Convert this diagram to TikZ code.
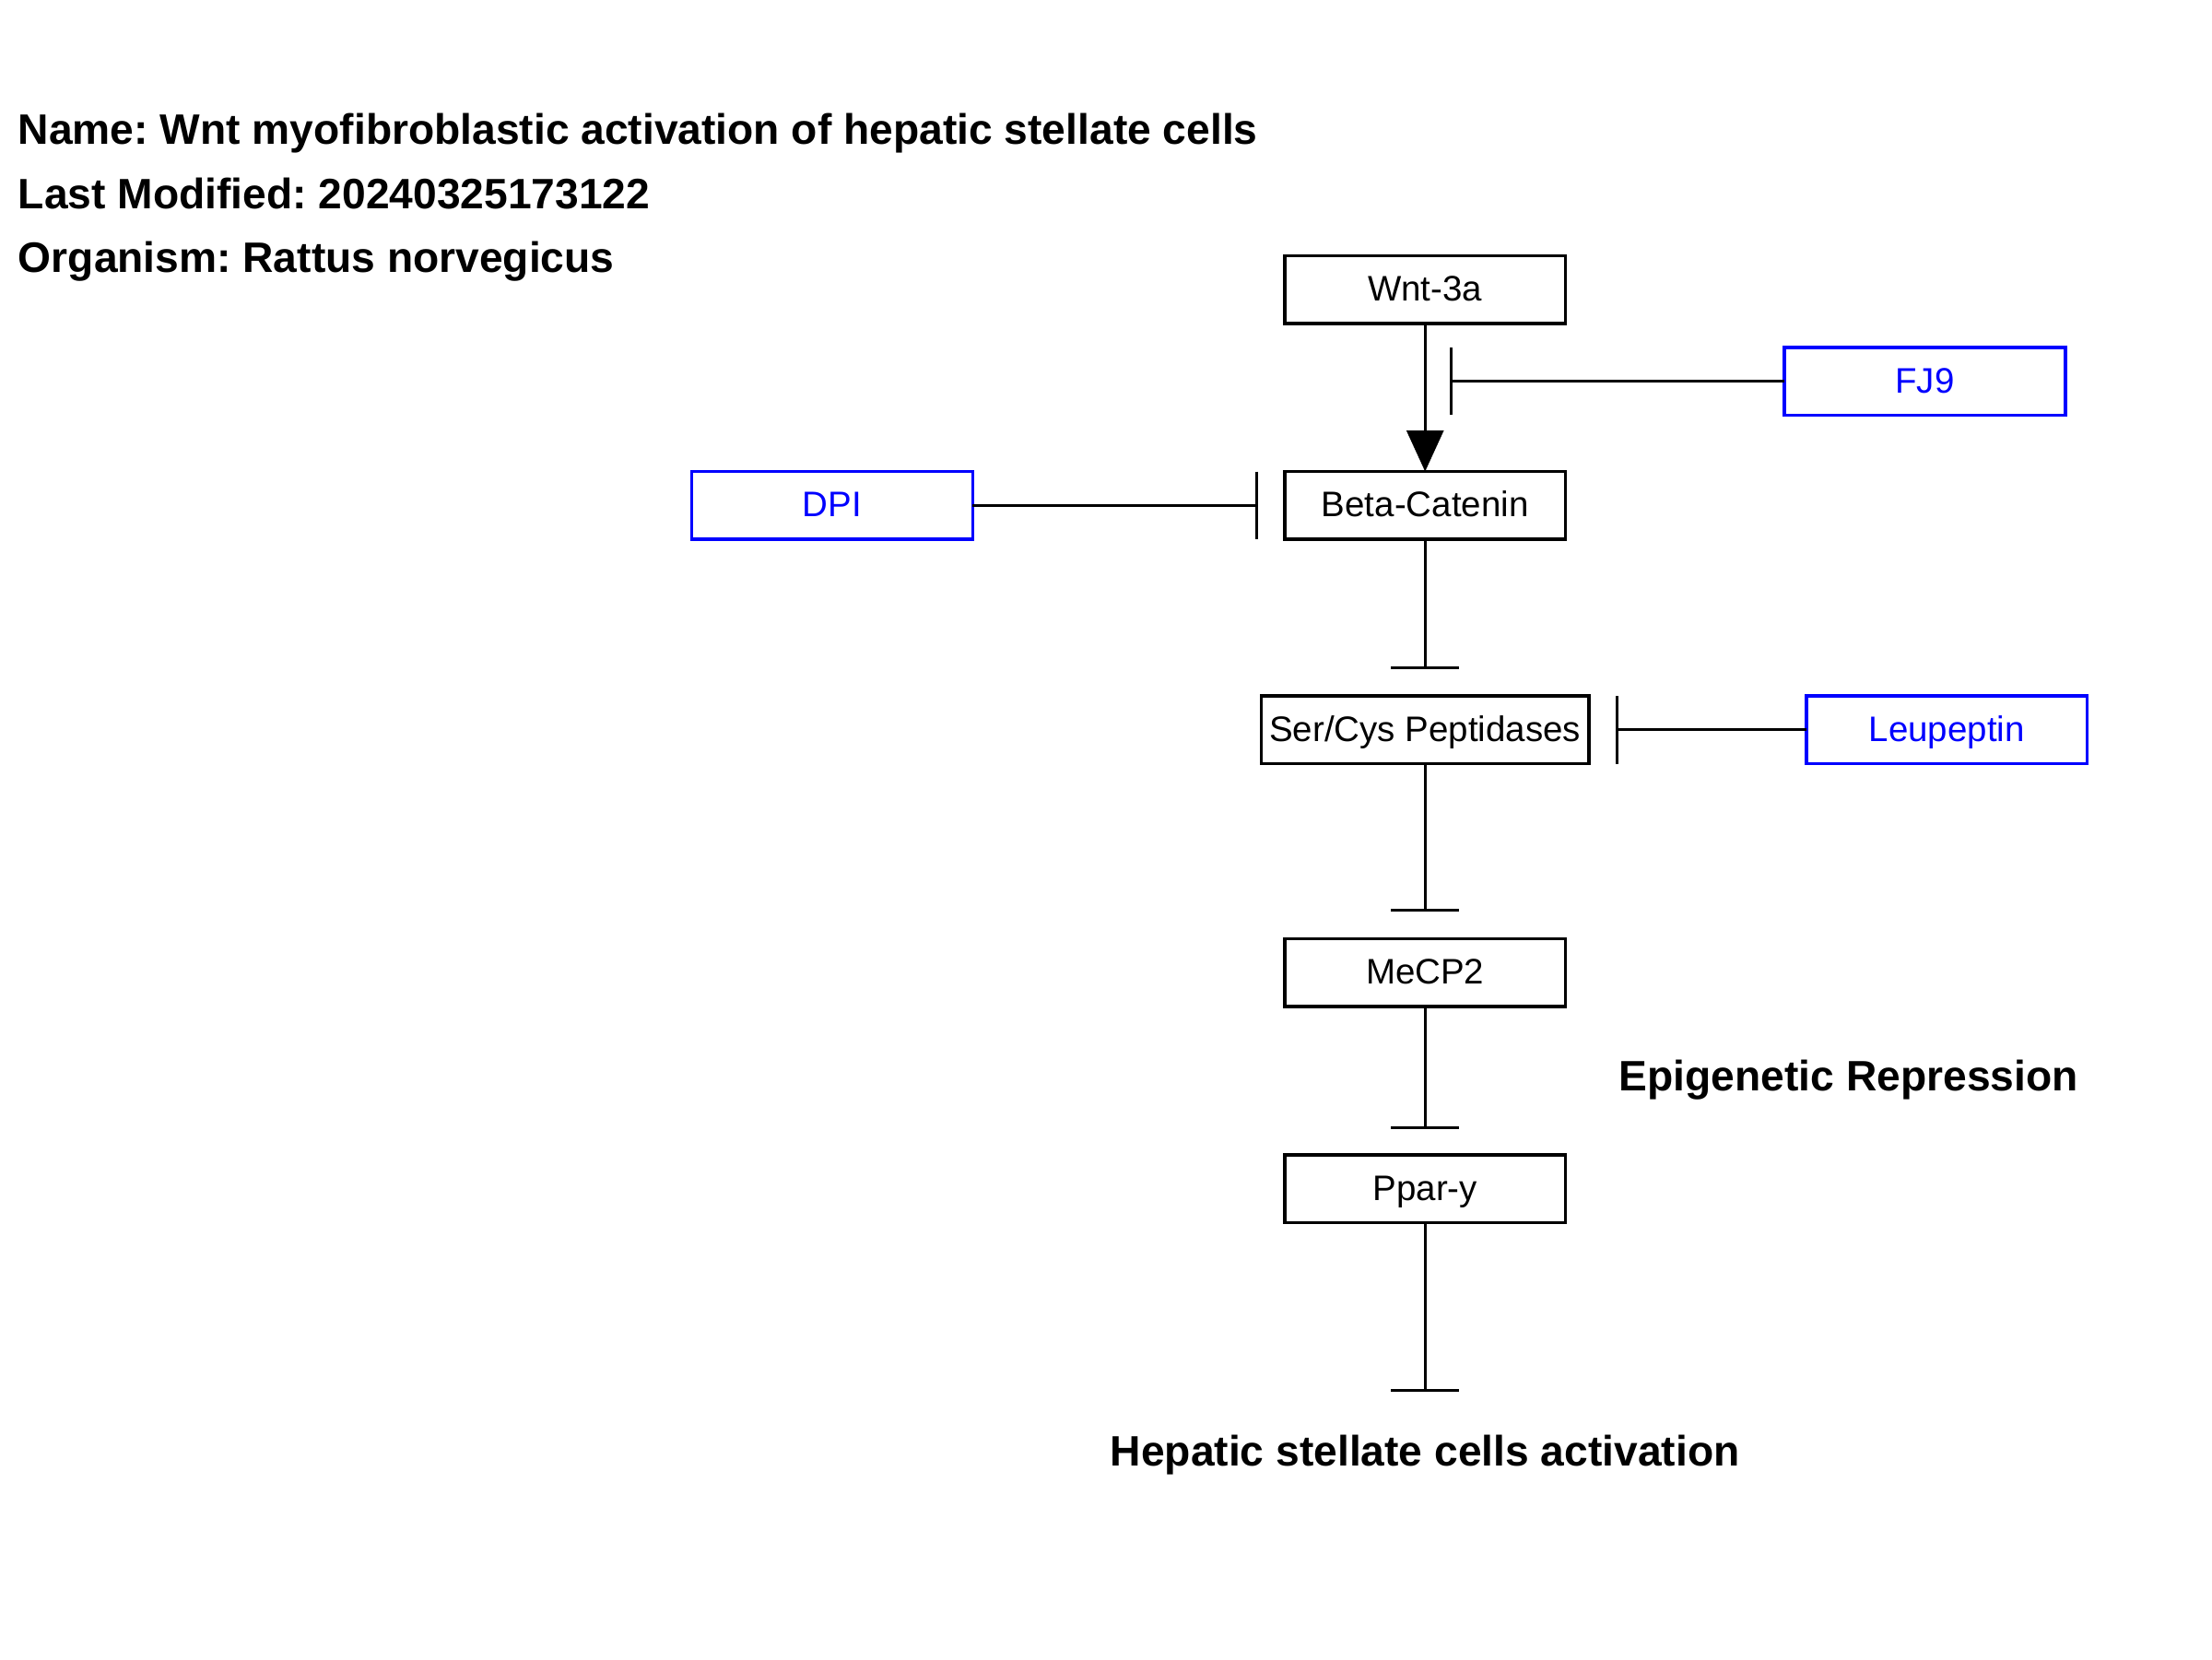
\documentclass[tikz,border=0pt]{standalone}
\usepackage{fontspec}
\setmainfont{Liberation Sans}
\usepackage{tikz}
\usetikzlibrary{positioning,arrows.meta}
\frenchspacing
\tikzstyle{gene} = [
rectangle,
minimum width=3.048cm,
minimum height=0.735cm,
inner xsep=2.5pt,
outer sep=0pt,
text height=0.93em,
text depth=0.214em,
text centered,
line width=1pt,
draw=black,
font=\fontsize{10.95}{13}\selectfont
]
\tikzstyle{drug} = [
gene,
draw=blue,
text=blue
]
\tikzstyle{label} = [
inner sep=0pt,
outer sep=0pt,
font=\fontsize{13.14}{16}\selectfont\bfseries
]
\tikzstyle{activate} = [
line width=0.9pt,
-{Triangle[length=0.444cm,width=0.398cm]}
]
\tikzstyle{inhibit} = [
line width=0.9pt,
-{Bar[width=0.735cm]}
]

\begin{document}
\begin{tikzpicture}
					\useasboundingbox (0,0) rectangle (24,-18);
					%Header
					\node[label,anchor=base west] (name) at (0.199,-1.565) {Name: Wnt myofibroblastic activation of hepatic stellate cells};
					\node[label,anchor=base west] (modified) at (0.199,-2.262) {Last Modified: 20240325173122};
					\node[label,anchor=base west] (organism) at (0.199,-2.959) {Organism: Rattus norvegicus};
					%Nodes
					\node[gene] (wnt) at (15.462,-3.140) {Wnt-3a};
					\node[gene,below=1.608cm of wnt] (beta) {Beta-Catenin};
					\node[drug,right=2.374cm of wnt,yshift=-0.996cm] (fj9) {FJ9};
					\node[drug,left=3.385cm of beta] (dpi) {DPI};
					\node[gene,below=1.700cm of beta] (sercys) {Ser/Cys Peptidases};
					\node[drug,right=2.359cm of sercys] (leupeptin) {Leupeptin};
					\node[gene,below=1.899cm of sercys] (mecp2) {MeCP2};
					\node[gene,below=1.608cm of mecp2] (ppar) {Ppar-y};
					\node[label,right=0.582cm of mecp2,yshift=-1.164cm] (epigenetic) {Epigenetic Repression};
					\node[label,below=2.527cm of ppar,anchor=center] (hsc) {Hepatic stellate cells activation};
					\coordinate[left=3.630cm of fj9.west] (fjbar);
					%Arrows
					\draw[activate] (wnt.south) -- (beta.north);
					\draw[inhibit] (fj9.west) -- (fjbar);
					\draw[inhibit,shorten >=0.29cm] (dpi.east) -- (beta.west);
					\draw[inhibit,shorten >=0.29cm] (beta.south) -- (sercys.north);
					\draw[inhibit,shorten >=0.29cm] (leupeptin.west) -- (sercys.east);
					\draw[inhibit,shorten >=0.29cm] (sercys.south) -- (mecp2.north);
					\draw[inhibit,shorten >=0.28cm] (mecp2.south) -- (ppar.north);
					\draw[inhibit,shorten >=0.475cm] (ppar.south) -- (hsc.north);
				\end{tikzpicture}
\end{document}
